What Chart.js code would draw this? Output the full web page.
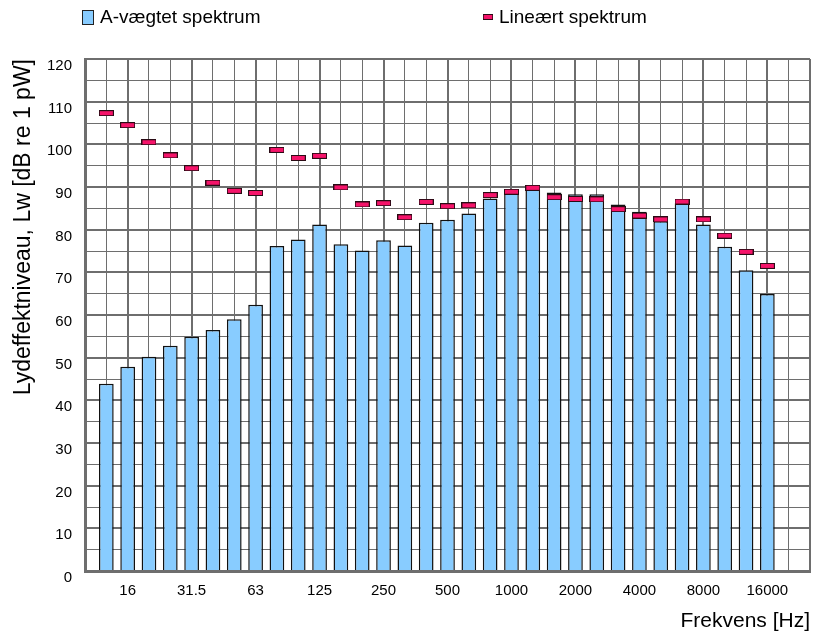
<!DOCTYPE html>
<html>
<head>
<meta charset="utf-8">
<script src="https://cdn.jsdelivr.net/npm/chart.js@4"></script>
<style>
  html, body { margin: 0; padding: 0; background: #fff; }
  #wrap { width: 824px; height: 634px; }
</style>
</head>
<body>
<div id="wrap"><canvas id="myChart"></canvas></div>
<script>
// 1/3-octave bands, one empty band on each side like the original sheet
let bands = ['10', '12.5', '16', '20', '25', '31.5', '40', '50', '63', '80', '100', '125', '160', '200',
    '250', '315', '400', '500', '630', '800', '1000', '1250', '1600', '2000', '2500', '3150', '4000',
    '5000', '6300', '8000', '10000', '12500', '16000', '20000', '25000']
let shownBands = ['16', '31.5', '63', '125', '250', '500', '1000', '2000', '4000', '8000', '16000']

let aWeighted = [null, 43.9, 47.9, 50.2, 52.8, 54.9, 56.5, 59.0, 62.4, 76.2, 77.7, 81.2, 76.6, 75.1,
    77.5, 76.3, 81.6, 82.3, 83.8, 87.3, 88.5, 89.4, 88.7, 88.3, 88.3, 85.9, 84.2,
    82.0, 86.2, 81.2, 76.0, 70.5, 64.9, null, null]
let linear = [null, 107.3, 104.5, 100.5, 97.4, 94.4, 91.0, 89.1, 88.6, 98.7, 96.8, 97.3, 89.9, 85.9,
    86.2, 82.9, 86.5, 85.5, 85.7, 88.1, 88.9, 89.8, 87.6, 87.2, 87.1, 84.8, 83.3,
    82.4, 86.6, 82.4, 78.6, 74.8, 71.5, null, null]

let yMin = 0
let yMax = 120

let font = '"Liberation Sans", Arial, sans-serif'
let gridColor = '#6e6e6e'

// small pink dash used as the point for the linear spectrum
let marker = document.createElement('canvas')
marker.width = 15
marker.height = 6
let mctx = marker.getContext('2d')
mctx.fillStyle = '#f5146a'
mctx.fillRect(0, 0, 15, 6)
mctx.strokeStyle = '#2a0a14'
mctx.lineWidth = 1
mctx.strokeRect(0.5, 0.5, 14, 5)

// legend sits spread out across the top, so draw it ourselves
let legendRow = {
    id: 'legendRow',
    afterDraw(chart) {
        let c = chart.ctx
        let xs = [82, 481]
        c.save()
        c.font = '19px ' + font
        c.textBaseline = 'middle'
        chart.data.datasets.forEach((ds, i) => {
            let x = xs[i]
            if (ds.type === 'bar') {
                c.fillStyle = ds.backgroundColor
                c.fillRect(x, 10, 12, 15)
                c.strokeStyle = '#222'
                c.lineWidth = 1
                c.strokeRect(x + 0.5, 10.5, 11, 14)
            } else {
                c.drawImage(marker, x + 2, 14, 10, 6)
            }
            c.fillStyle = '#000'
            c.fillText(ds.label, x + 18, 18)
        })
        c.restore()
    }
}

let ctx = document.getElementById('myChart').getContext('2d')

let chart = new Chart(ctx, {
    type: 'bar',
    data: {
        labels: bands,
        datasets: [{
            type: 'bar',
            label: 'A-vægtet spektrum',
            data: aWeighted,
            backgroundColor: '#88ccff',
            borderColor: '#111',
            borderWidth: 1.5,
            barPercentage: 0.69,
            categoryPercentage: 1,
            order: 2
        }, {
            type: 'line',
            label: 'Lineært spektrum',
            data: linear,
            showLine: false,
            pointStyle: marker,
            pointRadius: 7,
            pointHoverRadius: 7,
            order: 1
        }]
    },
    plugins: [legendRow],
    options: {
        responsive: true,
        maintainAspectRatio: false,
        animation: false,
        layout: { padding: { top: 59, right: 14, left: 0, bottom: 0 } },
        plugins: {
            legend: { display: false },
            tooltip: { enabled: false }
        },
        scales: {
            x: {
                offset: false,
                afterFit: s => { s.height = 63 },
                grid: {
                    offset: false,
                    drawTicks: false,
                    color: gridColor,
                    lineWidth: c => (shownBands.includes(bands[c.index]) || c.index === bands.length - 1) ? 2 : 1
                },
                border: { display: true, color: gridColor, width: 3 },
                ticks: {
                    autoSkip: false,
                    maxRotation: 0,
                    padding: 11,
                    color: '#000',
                    font: { family: font, size: 15 },
                    callback: function (v, i) {
                        let b = bands[i]
                        return shownBands.includes(b) ? b : ''
                    }
                },
                title: {
                    display: true,
                    text: 'Frekvens [Hz]',
                    align: 'end',
                    color: '#000',
                    font: { family: font, size: 21 },
                    padding: { top: 0, bottom: 0 }
                }
            },
            y: {
                min: yMin,
                max: yMax,
                afterFit: s => { s.width = 85 },
                grid: {
                    drawTicks: false,
                    color: gridColor,
                    lineWidth: c => c.tick.value % 10 === 0 ? 2 : 1
                },
                border: { display: true, color: gridColor, width: 3 },
                ticks: {
                    stepSize: 5,
                    padding: 13,
                    labelOffset: 7,
                    color: '#000',
                    font: { family: font, size: 15 },
                    callback: v => v % 10 === 0 ? v : ''
                },
                title: {
                    display: true,
                    text: 'Lydeffektniveau, Lw [dB re 1 pW]',
                    align: 'end',
                    color: '#000',
                    font: { family: font, size: 23 },
                    padding: { top: 10, bottom: 0 }
                }
            }
        }
    }
})
</script>
</body>
</html>
